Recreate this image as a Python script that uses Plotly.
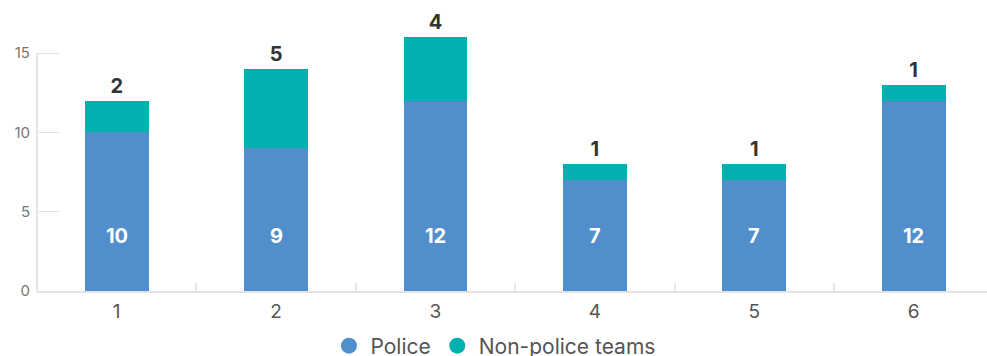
import plotly.graph_objects as go

categories = ["1", "2", "3", "4", "5", "6"]
police = [10, 9, 12, 7, 7, 12]
non_police = [2, 5, 4, 1, 1, 1]
y_ticks = [0, 5, 10, 15]

POLICE_COLOR = "#508FCC"
NONPOLICE_COLOR = "#00B1AF"
FONT = "Inter, Roboto, sans-serif"

label_y = min(police) / 2

fig = go.Figure()
fig.add_trace(go.Bar(
    x=categories, y=police, name="Police", marker_color=POLICE_COLOR,
    marker_line_width=0, width=0.4, showlegend=False, hoverinfo="skip",
))
fig.add_trace(go.Bar(
    x=categories, y=non_police, name="Non-police teams", marker_color=NONPOLICE_COLOR,
    marker_line_width=0, width=0.4, showlegend=False, text=[str(v) for v in non_police],
    textposition="outside", cliponaxis=False,
    textfont=dict(family=FONT, size=20, color="#333333", weight="bold"),
    hoverinfo="skip",
))
# police labels inside bars (category axis: use index positions)
for i, v in enumerate(police):
    fig.add_annotation(
        x=i, y=label_y, text=str(v), showarrow=False, yshift=-1,
        font=dict(family=FONT, size=20, color="white", weight="bold"),
    )
# legend entries with circle markers
for name, color in [("Police", POLICE_COLOR), ("Non-police teams", NONPOLICE_COLOR)]:
    fig.add_trace(go.Scatter(
        x=[None], y=[None], mode="markers", name=name,
        marker=dict(symbol="circle", size=20, color=color),
    ))

fig.add_shape(type="line", xref="paper", yref="y", x0=0, x1=0, y0=0, y1=max(y_ticks),
              line=dict(color="#dddddd", width=1.5))

fig.update_layout(
    width=987, height=356,
    margin=dict(l=37, r=0, t=20, b=65, autoexpand=False),
    barmode="stack",
    plot_bgcolor="white", paper_bgcolor="white",
    font=dict(family=FONT, color="#555555"),
    legend=dict(orientation="h", x=0.481, xanchor="center", y=-0.203, yanchor="middle",
                font=dict(family=FONT, size=21, color="#555555"),
                itemsizing="trace", itemwidth=33, traceorder="normal"),
    xaxis=dict(
        type="category", range=[-0.5, 5.46],
        showline=True, linecolor="#e3e3e3", linewidth=1.5,
        ticks="inside", tickson="boundaries", ticklen=8, tickcolor="#e8e8e8", tickwidth=1.5,
        showgrid=False, zeroline=False,
        tickfont=dict(family=FONT, size=19, color="#555555"),
        ticklabelstandoff=2,
    ),
    yaxis=dict(
        range=[0, 17.08], tickvals=y_ticks,
        showline=False, showgrid=False, zeroline=False,
        ticks="inside", ticklen=23, tickcolor="#e3e3e3", tickwidth=1.2,
        tickfont=dict(family=FONT, size=15, color="#777777"),
        ticklabelstandoff=6,
    ),
)

fig.write_html("out.html")
